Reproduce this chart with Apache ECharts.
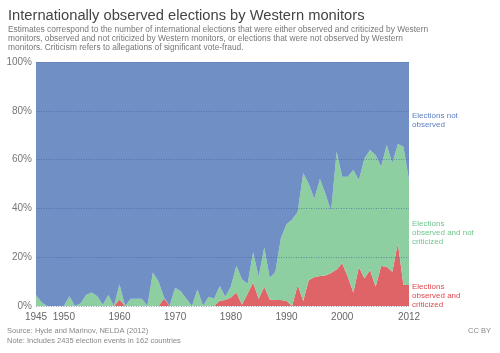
<!DOCTYPE html>
<html>
<head>
<meta charset="utf-8">
<script src="https://cdn.jsdelivr.net/npm/echarts@6/dist/echarts.min.js"></script>
<style>
  html, body { margin: 0; padding: 0; background: #fff; }
  #main { width: 500px; height: 353px; }
</style>
</head>
<body>
<div id="main"></div>
<script>
var years = [1945,1946,1947,1948,1949,1950,1951,1952,1953,1954,1955,1956,1957,1958,1959,
  1960,1961,1962,1963,1964,1965,1966,1967,1968,1969,1970,1971,1972,1973,1974,1975,1976,1977,
  1978,1979,1980,1981,1982,1983,1984,1985,1986,1987,1988,1989,1990,1991,1992,1993,1994,1995,
  1996,1997,1998,1999,2000,2001,2002,2003,2004,2005,2006,2007,2008,2009,2010,2011,2012];

// % observed and criticized
var criticized = [0,0,0,0,0,0,0,0,0,0,0,0,0,0,0,
  2.7,0,0,0,0,0,0,0,3.1,0,0,0,0,0,0,0,0,0,
  2.2,2.5,3.5,5.5,0.5,5,9.6,3,7.9,2.7,2.5,2.5,2,0,8.6,2,10.7,11.8,
  12.3,12.5,13.5,15,17.5,12,5.5,16,11.3,14.8,7.9,16.4,16.1,14,25.7,8.6,8.6];

// % observed and not criticized
var notCriticized = [4.5,1.5,0,0,0,0,4,0,1,4.5,5.5,4,0.5,4.5,0,
  6.2,0,3,3,3,0,13.7,10,0.4,0,7.5,6,3,0,6.8,0,3.8,3,
  6,1.3,4.5,11,10.5,4,12.4,9,16.1,8.8,11.5,25.5,31.5,35.5,29.9,52.5,39.3,32.2,
  39.7,33.5,25.2,48.2,35.5,41,50.2,35.6,49.2,49.1,54,40.7,49.9,44.5,40.7,56.7,43];

// % not observed
var notObserved = [95.5,98.5,100,100,100,100,96,100,99,95.5,94.5,96,99.5,95.5,100,
  91.1,100,97,97,97,100,86.3,90,96.5,100,92.5,94,97,100,93.2,100,96.2,97,
  91.8,96.2,92,83.5,89,91,78,88,76,88.5,86,72,66.5,64.5,61.5,45.5,50,56,
  48,54,61.3,36.8,47,47,44.3,48.4,39.5,36.1,38.1,42.9,34,41.5,33.6,34.7,48.4];

var xTickLabels = ['1945','1950','1960','1970','1980','1990','2000','2012'];

var font = 'Liberation Sans, Arial, sans-serif';
var chart = echarts.init(document.getElementById('main'));

var option = {
  animation: false,
  title: {
    text: 'Internationally observed elections by Western monitors',
    subtext: 'Estimates correspond to the number of international elections that were either observed and criticized by Western\nmonitors, observed and not criticized by Western monitors, or elections that were not observed by Western\nmonitors. Criticism refers to allegations of significant vote-fraud.',
    left: 3,
    top: 3,
    itemGap: 2,
    textStyle: { fontFamily: font, fontSize: 14.7, fontWeight: 'normal', color: '#444' },
    subtextStyle: { fontFamily: font, fontSize: 8.4, lineHeight: 9.2, color: '#777' }
  },
  grid: { left: 36, right: 91, top: 62, bottom: 47 },
  xAxis: {
    type: 'category',
    data: years.map(String),
    boundaryGap: false,
    axisLine: { show: false },
    axisTick: { show: false },
    axisLabel: {
      interval: function (i, v) { return xTickLabels.indexOf(v) >= 0; },
      fontFamily: font, fontSize: 10, color: '#666', margin: 6
    },
    splitLine: { show: false }
  },
  yAxis: {
    type: 'value',
    min: 0, max: 100, interval: 20,
    z: 10,
    axisLine: { show: false },
    axisTick: { show: false },
    axisLabel: { formatter: '{value}%', fontFamily: font, fontSize: 10, color: '#777', margin: 4 },
    splitLine: { lineStyle: { type: [1, 1.5], color: 'rgba(60,90,150,0.55)', width: 1 } }
  },
  series: [
    {
      name: 'Elections observed and criticized',
      type: 'line', stack: 'all', symbol: 'none',
      lineStyle: { width: 0 },
      areaStyle: { color: '#de6468', opacity: 1 },
      data: criticized
    },
    {
      name: 'Elections observed and not criticized',
      type: 'line', stack: 'all', symbol: 'none',
      lineStyle: { width: 0 },
      areaStyle: { color: '#8dcfa0', opacity: 1 },
      data: notCriticized
    },
    {
      name: 'Elections not observed',
      type: 'line', stack: 'all', symbol: 'none',
      lineStyle: { width: 0 },
      areaStyle: { color: '#6f8fc5', opacity: 1 },
      data: notObserved
    }
  ],
  graphic: [
    { type: 'text', left: 412, top: 111, style: { text: 'Elections not\nobserved', fill: '#5b7fc0', font: '8px ' + font, lineHeight: 9 } },
    { type: 'text', left: 412, top: 219, style: { text: 'Elections\nobserved and not\ncriticized', fill: '#6fc48d', font: '8px ' + font, lineHeight: 9 } },
    { type: 'text', left: 412, top: 282, style: { text: 'Elections\nobserved and\ncriticized', fill: '#e0474f', font: '8px ' + font, lineHeight: 9 } },
    { type: 'text', left: 7, top: 326, style: { text: 'Source: Hyde and Marinov, NELDA (2012)\nNote: Includes 2435 election events in 162 countries', fill: '#888', font: '7.5px ' + font, lineHeight: 10 } },
    { type: 'text', right: 9, top: 327, style: { text: 'CC BY', fill: '#888', font: '7.5px ' + font } }
  ]
};

chart.setOption(option);
</script>
</body>
</html>
